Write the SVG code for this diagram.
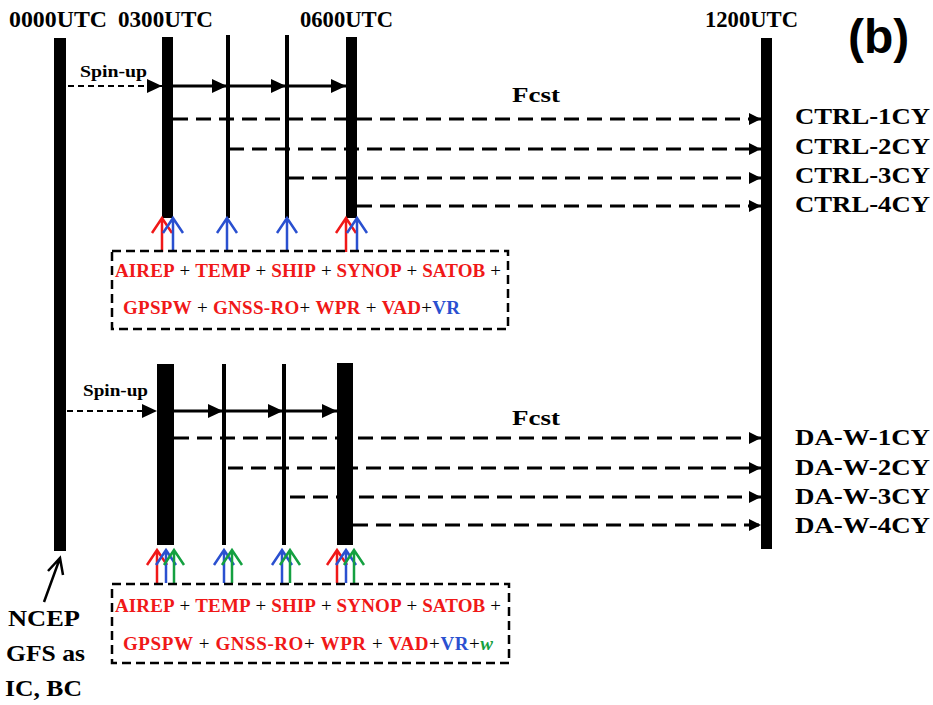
<svg xmlns="http://www.w3.org/2000/svg" width="933" height="705" viewBox="0 0 933 705">
<style>
.t{font-family:"Liberation Serif","Times New Roman",serif;font-weight:bold;fill:#000}
.hd{font-size:23px}
.lb{font-size:23px}
.sp{font-size:17px}
.ob{font-family:"Liberation Serif","Times New Roman",serif;font-weight:bold;font-size:19px}
.r{fill:#f01818}
.b{fill:#2a50d0}
.g{fill:#14a040}
.k{fill:#000;font-weight:normal}
.bar{fill:#000}
.sol{stroke:#000;stroke-width:3;fill:none}
.dsh{stroke:#000;stroke-width:3;fill:none;stroke-dasharray:15 8}
.thin{stroke:#000;stroke-width:1.8;fill:none;stroke-dasharray:6 4}
.box{stroke:#000;stroke-width:2.5;fill:none;stroke-dasharray:9 5}
.vl{stroke:#000;stroke-width:4;fill:none}
.obs{fill:none;stroke-width:2.5}
</style>
<defs>
<marker id="ah" markerUnits="userSpaceOnUse" markerWidth="16" markerHeight="14" refX="15" refY="7" orient="auto"><path d="M0,0 L15,7 L0,14 Z" fill="#000"/></marker>
<marker id="ahs" markerUnits="userSpaceOnUse" markerWidth="13" markerHeight="12" refX="12" refY="6" orient="auto"><path d="M0,0 L12,6 L0,12 Z" fill="#000"/></marker>
<path id="obsT" d="M0,34 V0 M-10,15 L0,0 L10,15"/>
<path id="obsB" d="M0,33 V0 M-10,15 L0,0 L10,15"/>
</defs>

<g id="headers">
<text class="t hd" x="9" y="27" textLength="98" lengthAdjust="spacingAndGlyphs">0000UTC</text>
<text class="t hd" x="118" y="27" textLength="95" lengthAdjust="spacingAndGlyphs">0300UTC</text>
<text class="t hd" x="300" y="27" textLength="93" lengthAdjust="spacingAndGlyphs">0600UTC</text>
<text class="t hd" x="705" y="27" textLength="93" lengthAdjust="spacingAndGlyphs">1200UTC</text>
<text x="848" y="53" font-family="Liberation Sans, Arial, sans-serif" font-weight="bold" font-size="48">(b)</text>
</g>

<g id="bar-0000"><rect class="bar" x="54" y="38" width="12" height="513"/></g>
<g id="bar-1200"><rect class="bar" x="761" y="38" width="11" height="511"/></g>

<g id="ctrl-timeline">
<rect class="bar" x="162" y="37" width="11" height="181"/>
<line class="vl" x1="228" y1="35" x2="228" y2="218"/>
<line class="vl" x1="287" y1="35" x2="287" y2="218"/>
<rect class="bar" x="346" y="37" width="11" height="181"/>
</g>

<g id="da-timeline">
<rect class="bar" x="157" y="364" width="17" height="181"/>
<line class="vl" x1="224" y1="364" x2="224" y2="545"/>
<line class="vl" x1="284" y1="364" x2="284" y2="545"/>
<rect class="bar" x="337" y="363" width="16" height="182"/>
</g>

<g id="connectors">
<line class="thin" x1="68" y1="86" x2="162" y2="86" marker-end="url(#ah)"/>
<line class="sol" x1="173" y1="86" x2="227" y2="86" marker-end="url(#ah)"/>
<line class="sol" x1="229" y1="86" x2="286" y2="86" marker-end="url(#ah)"/>
<line class="sol" x1="288" y1="86" x2="346" y2="86" marker-end="url(#ah)"/>
<line class="dsh" x1="173" y1="119" x2="761" y2="119" marker-end="url(#ahs)"/>
<line class="dsh" x1="229" y1="149" x2="761" y2="149" marker-end="url(#ahs)"/>
<line class="dsh" x1="289" y1="178" x2="761" y2="178" marker-end="url(#ahs)"/>
<line class="dsh" x1="357" y1="206" x2="761" y2="206" marker-end="url(#ahs)"/>

<line class="thin" x1="67" y1="411" x2="157" y2="411" marker-end="url(#ah)"/>
<line class="sol" x1="174" y1="411" x2="223" y2="411" marker-end="url(#ah)"/>
<line class="sol" x1="225" y1="411" x2="283" y2="411" marker-end="url(#ah)"/>
<line class="sol" x1="285" y1="411" x2="337" y2="411" marker-end="url(#ah)"/>
<line class="dsh" x1="174" y1="438" x2="761" y2="438" marker-end="url(#ahs)"/>
<line class="dsh" x1="228" y1="468" x2="761" y2="468" marker-end="url(#ahs)"/>
<line class="dsh" x1="290" y1="497" x2="761" y2="497" marker-end="url(#ahs)"/>
<line class="dsh" x1="353" y1="525" x2="761" y2="525" marker-end="url(#ahs)"/>

<path d="M44,602 L60,558 M48,571 L60,558 L63,575" stroke="#000" stroke-width="2.5" fill="none"/>
</g>

<g id="labels">
<text class="t sp" x="80" y="77" textLength="67" lengthAdjust="spacingAndGlyphs">Spin-up</text>
<text class="t sp" x="83" y="396" textLength="65" lengthAdjust="spacingAndGlyphs">Spin-up</text>
<text class="t" font-size="21" x="512" y="102" textLength="48" lengthAdjust="spacingAndGlyphs">Fcst</text>
<text class="t" font-size="21" x="512" y="425" textLength="48" lengthAdjust="spacingAndGlyphs">Fcst</text>
<text class="t lb" x="795" y="124" textLength="135" lengthAdjust="spacingAndGlyphs">CTRL-1CY</text>
<text class="t lb" x="795" y="154" textLength="135" lengthAdjust="spacingAndGlyphs">CTRL-2CY</text>
<text class="t lb" x="795" y="183" textLength="135" lengthAdjust="spacingAndGlyphs">CTRL-3CY</text>
<text class="t lb" x="795" y="212" textLength="135" lengthAdjust="spacingAndGlyphs">CTRL-4CY</text>
<text class="t lb" x="795" y="445" textLength="135" lengthAdjust="spacingAndGlyphs">DA-W-1CY</text>
<text class="t lb" x="795" y="475" textLength="135" lengthAdjust="spacingAndGlyphs">DA-W-2CY</text>
<text class="t lb" x="795" y="504" textLength="135" lengthAdjust="spacingAndGlyphs">DA-W-3CY</text>
<text class="t lb" x="795" y="533" textLength="135" lengthAdjust="spacingAndGlyphs">DA-W-4CY</text>
<text class="t lb" x="8" y="626" textLength="72" lengthAdjust="spacingAndGlyphs">NCEP</text>
<text class="t lb" x="6" y="661" textLength="79" lengthAdjust="spacingAndGlyphs">GFS as</text>
<text class="t lb" x="5" y="696" textLength="77" lengthAdjust="spacingAndGlyphs">IC, BC</text>
</g>

<g id="obs-ctrl">
<use href="#obsT" class="obs" x="162" y="218" stroke="#f01818"/>
<use href="#obsT" class="obs" x="173" y="218" stroke="#2a50d0"/>
<use href="#obsT" class="obs" x="227" y="218" stroke="#2a50d0"/>
<use href="#obsT" class="obs" x="287" y="218" stroke="#2a50d0"/>
<use href="#obsT" class="obs" x="346" y="218" stroke="#f01818"/>
<use href="#obsT" class="obs" x="357" y="218" stroke="#2a50d0"/>
</g>

<g id="obs-da">
<use href="#obsB" class="obs" x="157" y="550" stroke="#f01818"/>
<use href="#obsB" class="obs" x="166" y="550" stroke="#2a50d0"/>
<use href="#obsB" class="obs" x="174" y="550" stroke="#14a040"/>
<use href="#obsB" class="obs" x="224" y="550" stroke="#2a50d0"/>
<use href="#obsB" class="obs" x="232" y="550" stroke="#14a040"/>
<use href="#obsB" class="obs" x="282" y="550" stroke="#2a50d0"/>
<use href="#obsB" class="obs" x="290" y="550" stroke="#14a040"/>
<use href="#obsB" class="obs" x="337" y="550" stroke="#f01818"/>
<use href="#obsB" class="obs" x="346" y="550" stroke="#2a50d0"/>
<use href="#obsB" class="obs" x="354" y="550" stroke="#14a040"/>
</g>

<g id="obs-box-ctrl">
<rect class="box" x="112" y="251" width="396" height="78"/>
<text class="ob" x="115" y="277" textLength="386" lengthAdjust="spacing"><tspan class="r">AIREP</tspan><tspan class="k"> + </tspan><tspan class="r">TEMP</tspan><tspan class="k"> + </tspan><tspan class="r">SHIP</tspan><tspan class="k"> + </tspan><tspan class="r">SYNOP</tspan><tspan class="k"> + </tspan><tspan class="r">SATOB</tspan><tspan class="k"> +</tspan></text>
<text class="ob" x="123" y="314" textLength="337" lengthAdjust="spacing"><tspan class="r">GPSPW</tspan><tspan class="k"> + </tspan><tspan class="r">GNSS-RO</tspan><tspan class="k">+ </tspan><tspan class="r">WPR</tspan><tspan class="k"> + </tspan><tspan class="r">VAD</tspan><tspan class="k">+</tspan><tspan class="b">VR</tspan></text>
</g>

<g id="obs-box-da">
<rect class="box" x="112" y="584" width="397" height="79"/>
<text class="ob" x="115" y="612" textLength="386" lengthAdjust="spacing"><tspan class="r">AIREP</tspan><tspan class="k"> + </tspan><tspan class="r">TEMP</tspan><tspan class="k"> + </tspan><tspan class="r">SHIP</tspan><tspan class="k"> + </tspan><tspan class="r">SYNOP</tspan><tspan class="k"> + </tspan><tspan class="r">SATOB</tspan><tspan class="k"> +</tspan></text>
<text class="ob" x="123" y="650" textLength="370" lengthAdjust="spacing"><tspan class="r">GPSPW</tspan><tspan class="k"> + </tspan><tspan class="r">GNSS-RO</tspan><tspan class="k">+ </tspan><tspan class="r">WPR</tspan><tspan class="k"> + </tspan><tspan class="r">VAD</tspan><tspan class="k">+</tspan><tspan class="b">VR</tspan><tspan class="k">+</tspan><tspan class="g" font-style="italic">w</tspan></text>
</g>
</svg>
